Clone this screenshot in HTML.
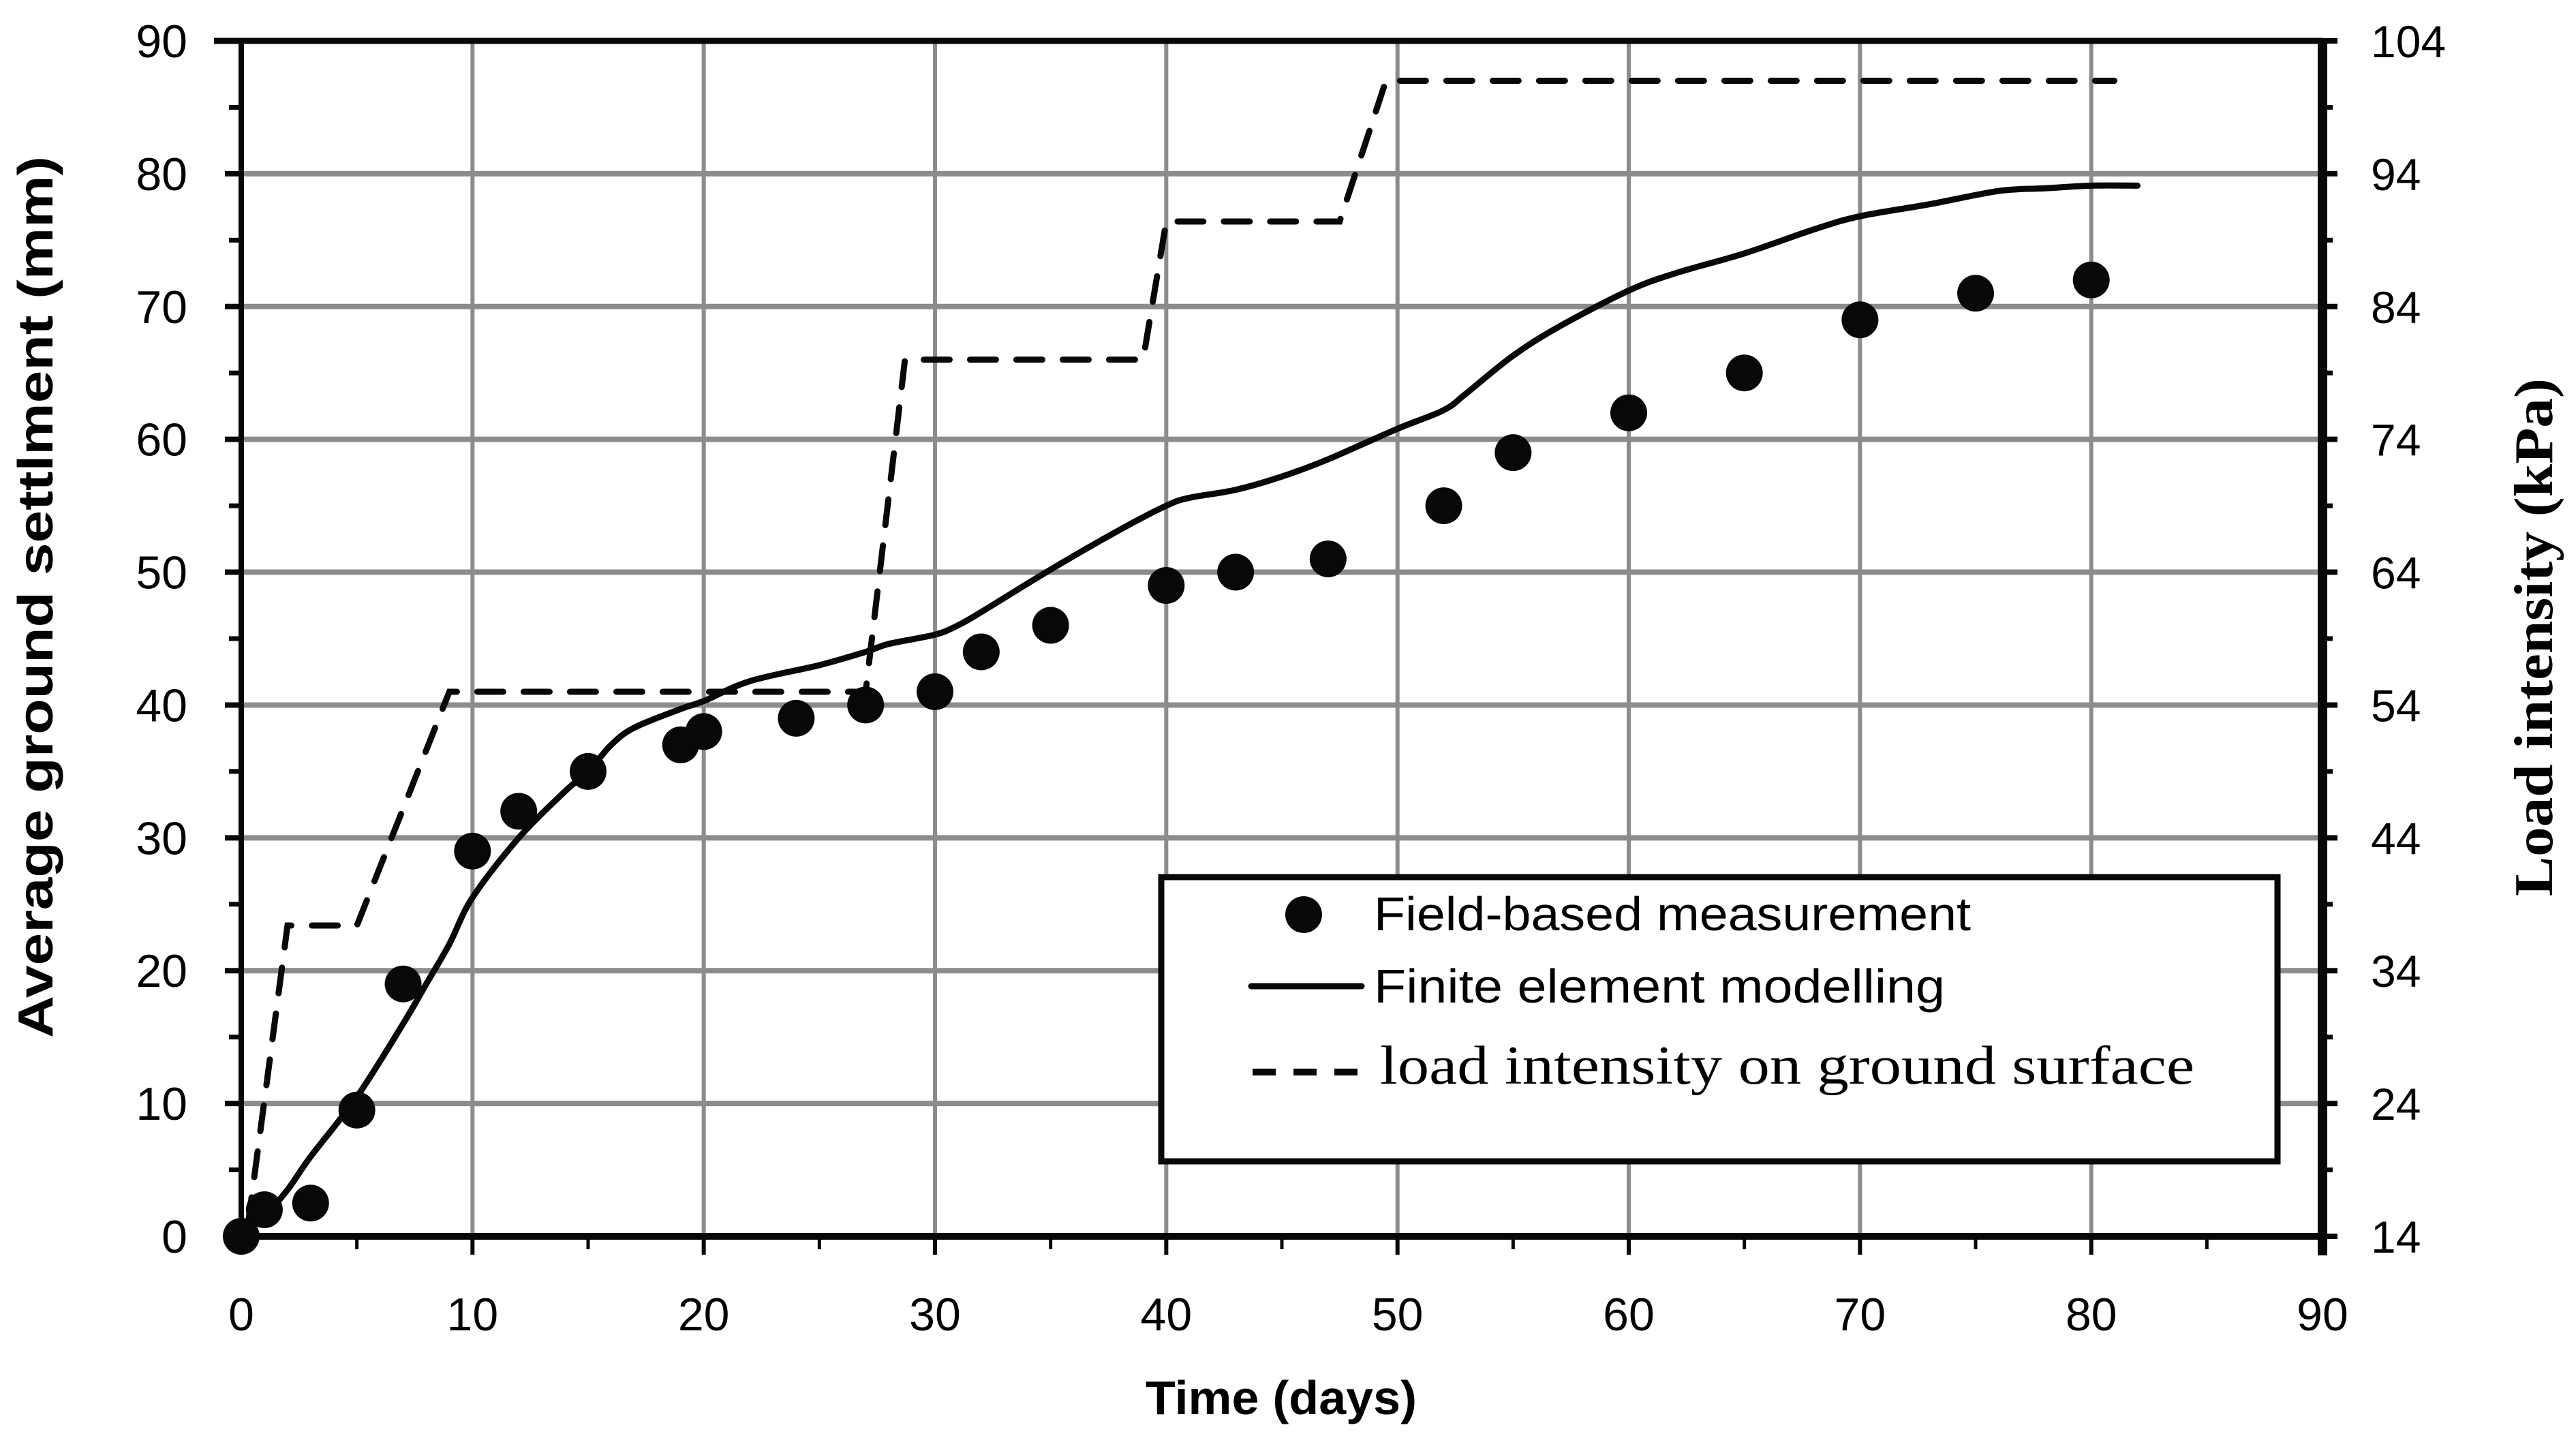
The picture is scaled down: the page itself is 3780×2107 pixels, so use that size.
<!DOCTYPE html>
<html><head><meta charset="utf-8"><style>
html,body{margin:0;padding:0;background:#fff;}
svg{display:block;}
</style></head><body>
<svg id="chart" xmlns="http://www.w3.org/2000/svg" width="3780" height="2107" viewBox="0 0 3780 2107">
<rect x="0" y="0" width="3780" height="2107" fill="#fff"/>
<g id="grid"></g>
<g id="series"></g>
<g id="axes"></g>
<text x="1880" y="2075" font-family="Liberation Sans, sans-serif" font-weight="bold" font-size="70" text-anchor="middle" textLength="398" lengthAdjust="spacingAndGlyphs">Time (days)</text>
<text transform="translate(77,876) rotate(-90)" font-family="Liberation Sans, sans-serif" font-weight="bold" font-size="72" text-anchor="middle" textLength="1294" lengthAdjust="spacingAndGlyphs">Average ground settlment (mm)</text>
<text transform="translate(3745,935) rotate(-90)" font-family="Liberation Serif, serif" font-weight="bold" font-size="80" text-anchor="middle" textLength="760" lengthAdjust="spacingAndGlyphs">Load intensity (kPa)</text>
<g>
<rect x="1704" y="1287" width="1638" height="417" fill="#fff" stroke="#080808" stroke-width="9"/>
<ellipse cx="1913" cy="1342" rx="27" ry="27" fill="#080808"/>
<text x="2016" y="1365" font-family="Liberation Sans, sans-serif" font-size="70" textLength="876" lengthAdjust="spacingAndGlyphs">Field-based measurement</text>
<line x1="1836" y1="1447" x2="1998" y2="1447" stroke="#080808" stroke-width="9" stroke-linecap="round"/>
<text x="2016" y="1471" font-family="Liberation Sans, sans-serif" font-size="70" textLength="838" lengthAdjust="spacingAndGlyphs">Finite element modelling</text>
<line x1="1838" y1="1573" x2="1992" y2="1573" stroke="#080808" stroke-width="10" stroke-dasharray="34 26"/>
<text x="2025" y="1590" font-family="Liberation Serif, serif" font-size="80" textLength="1195" lengthAdjust="spacingAndGlyphs">load intensity on ground surface</text>
</g>
</svg>
<script>
const fieldDays = [0,1,3,5,7,10,12,15,19,20,24,27,30,32,35,40,43,47,52,55,60,65,70,75,80];
const fieldSettle = [0,2,2.5,9.5,19,29,32,35,37,38,39,40,41,44,46,49,50,51,55,59,62,65,69,71,72];
const femDays = [0,1,2,3,5,7,8,9,10,12,14,15,16,17,19,20,22,25,27,28,30,31,32,35,38,40,41,43,45,47,50,52,53,55,57,60,62,65,68,70,73,76,78,80,82];
const femSettle = [0,1.5,3.5,6,10.5,16,19,22,25.5,30,33.5,35,37,38.3,39.7,40.3,41.8,43,44,44.6,45.3,46,47,50.2,53.2,55,55.6,56.2,57.2,58.5,60.8,62.2,63.5,66.3,68.5,71.2,72.5,74,75.8,76.8,77.7,78.7,78.9,79.1,79.1];
const loadDays = [0.3,2,5,9,27,28.7,39,40,47.5,49.5,81];
const loadKPa = [15,37.4,37.4,55,55,80,80,90.4,90.4,101,101];
const xTicks = [0,10,20,30,40,50,60,70,80,90];
const yTicks = [0,10,20,30,40,50,60,70,80,90];
const y2Ticks = [14,24,34,44,54,64,74,84,94,104];

const NS = 'http://www.w3.org/2000/svg';
const X0 = 354, X1 = 3408, Y0 = 1814, Y1 = 60;
function xs(d){ return X0 + d*(X1-X0)/90; }
function ys(v){ return Y0 - v*(Y0-Y1)/90; }
function ys2(k){ return Y0 - (k-14)*(Y0-Y1)/90; }
function mk(tag, attrs, parent){
  const e = document.createElementNS(NS, tag);
  for (const k in attrs) e.setAttribute(k, attrs[k]);
  parent.appendChild(e);
  return e;
}
const grid = document.getElementById('grid');
const series = document.getElementById('series');
const axes = document.getElementById('axes');
const font = 'Liberation Sans, sans-serif';

xTicks.forEach(t => {
  if (t > 0 && t < 90) {
    const l = mk('line', {x1: xs(t), y1: Y1, x2: xs(t), y2: Y0, stroke: '#8c8c8c', 'stroke-width': 6}, grid);
    
    
  }
  const tk = mk('line', {x1: xs(t), y1: Y0, x2: xs(t), y2: Y0+27, stroke: '#080808', 'stroke-width': 6}, axes);
  
  
  if (t < 90) {
    const mt = mk('line', {x1: xs(t+5), y1: Y0, x2: xs(t+5), y2: Y0+19, stroke: '#080808', 'stroke-width': 5}, axes);
    
    
  }
  const tx = mk('text', {x: xs(t), y: 1952, 'font-family': font, 'font-size': 68, 'text-anchor': 'middle'}, axes);
  
  
  tx.textContent = t;
});
yTicks.forEach(t => {
  if (t > 0 && t < 90) {
    const l = mk('line', {x1: X0, y1: ys(t), x2: X1, y2: ys(t), stroke: '#8c8c8c', 'stroke-width': 8}, grid);
    
    
  }
  const tk = mk('line', {x1: X0-24, y1: ys(t), x2: X0, y2: ys(t), stroke: '#080808', 'stroke-width': 8}, axes);
  
  
  if (t < 90) {
    const mt = mk('line', {x1: X0-18, y1: ys(t+5), x2: X0, y2: ys(t+5), stroke: '#080808', 'stroke-width': 7}, axes);
    
    
  }
  const tx = mk('text', {x: 275, y: ys(t)+24, 'font-family': font, 'font-size': 68, 'text-anchor': 'end'}, axes);
  
  
  tx.textContent = t;
});
y2Ticks.forEach(t => {
  const tk = mk('line', {x1: X1, y1: ys2(t), x2: X1+22, y2: ys2(t), stroke: '#080808', 'stroke-width': 8}, axes);
  
  
  if (t < 104) {
    const mt = mk('line', {x1: X1, y1: ys2(t+5), x2: X1+15, y2: ys2(t+5), stroke: '#080808', 'stroke-width': 7}, axes);
    
    
  }
  const tx = mk('text', {x: 3479, y: ys2(t)+24, 'font-family': font, 'font-size': 66, 'text-anchor': 'start'}, axes);
  
  
  tx.textContent = t;
});
// axis lines
let a = mk('line', {x1: X0-40, y1: Y1, x2: X1, y2: Y1, stroke: '#080808', 'stroke-width': 9}, axes);


a = mk('line', {x1: X0, y1: Y1, x2: X0, y2: Y0, stroke: '#080808', 'stroke-width': 8}, axes);


a = mk('line', {x1: X0, y1: Y0, x2: X1+6, y2: Y0, stroke: '#080808', 'stroke-width': 10}, axes);


a = mk('line', {x1: X1, y1: Y1-4, x2: X1, y2: Y0+28, stroke: '#080808', 'stroke-width': 14}, axes);



// load dashed line
let d = loadDays.map((v,i) => (i?'L':'M') + xs(v).toFixed(1) + ' ' + ys2(loadKPa[i]).toFixed(1)).join(' ');
let p = mk('path', {d: d, fill: 'none', stroke: '#080808', 'stroke-width': 9, 'stroke-dasharray': '38 30', 'stroke-linecap': 'round'}, series);


// FEM line (smooth)
const pts = femDays.map((v,i) => [xs(v), ys(femSettle[i])]);
let dd = 'M' + pts[0][0] + ' ' + pts[0][1];
for (let i = 0; i < pts.length-1; i++) {
  const p0 = pts[Math.max(0,i-1)], p1 = pts[i], p2 = pts[i+1], p3 = pts[Math.min(pts.length-1,i+2)];
  const c1x = p1[0] + (p2[0]-p0[0])/6, c1y = p1[1] + (p2[1]-p0[1])/6;
  const c2x = p2[0] - (p3[0]-p1[0])/6, c2y = p2[1] - (p3[1]-p1[1])/6;
  dd += ` C${c1x.toFixed(1)} ${c1y.toFixed(1)} ${c2x.toFixed(1)} ${c2y.toFixed(1)} ${p2[0].toFixed(1)} ${p2[1].toFixed(1)}`;
}
p = mk('path', {d: dd, fill: 'none', stroke: '#080808', 'stroke-width': 9, 'stroke-linecap': 'round', 'stroke-linejoin': 'round'}, series);


// field points
fieldDays.forEach((v,i) => {
  const c = mk('ellipse', {cx: xs(v), cy: ys(fieldSettle[i]), rx: 27, ry: 27, fill: '#080808'}, series);
  
  
});
</script>
</body></html>
